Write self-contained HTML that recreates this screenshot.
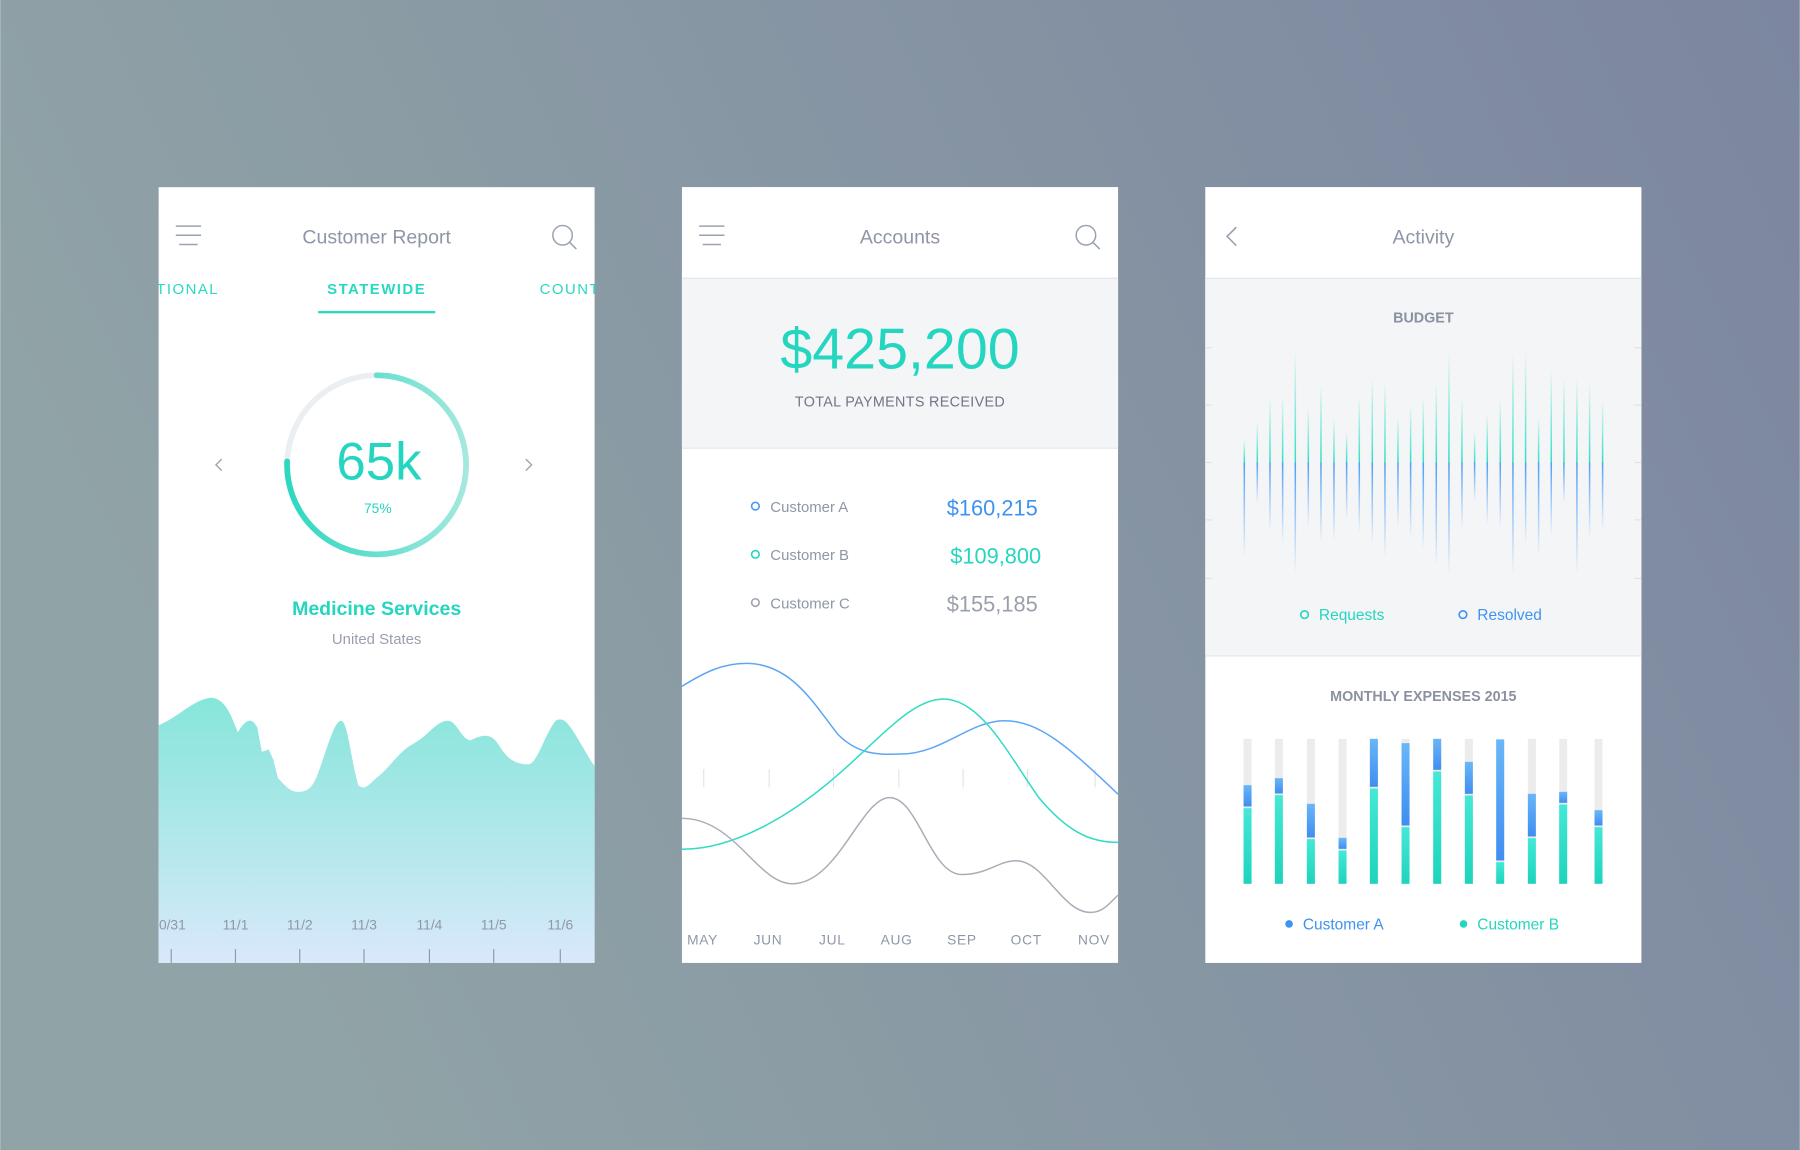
<!DOCTYPE html>
<html><head><meta charset="utf-8"><style>
html,body{margin:0;padding:0;width:1800px;height:1150px;overflow:hidden}
svg{display:block;font-family:"Liberation Sans",sans-serif}
</style></head><body>
<svg width="1800" height="1150" viewBox="0 0 1568 1002" xmlns="http://www.w3.org/2000/svg">
<defs>
<linearGradient id="bg" x1="0" y1="0.3" x2="1" y2="0"><stop offset="0" stop-color="#90a3a6"/><stop offset="1" stop-color="#7c86a0"/></linearGradient>
<linearGradient id="area" x1="0" y1="0" x2="0" y2="1"><stop offset="0" stop-color="#86e6da"/><stop offset="1" stop-color="#d9e8fb"/></linearGradient>
<linearGradient id="arc" x1="0" y1="0" x2="1" y2="0"><stop offset="0" stop-color="#2dd8c0"/><stop offset="1" stop-color="#a4e8de"/></linearGradient>
<linearGradient id="bt" x1="0" y1="0" x2="0" y2="1"><stop offset="0" stop-color="#2ee0c6" stop-opacity="0"/><stop offset="1" stop-color="#2ee0c6"/></linearGradient>
<linearGradient id="bb" x1="0" y1="0" x2="0" y2="1"><stop offset="0" stop-color="#4d9ef5"/><stop offset="1" stop-color="#4d9ef5" stop-opacity="0"/></linearGradient>
<linearGradient id="ca" x1="0" y1="0" x2="0" y2="1"><stop offset="0" stop-color="#6ab6f8"/><stop offset="1" stop-color="#3f8ef0"/></linearGradient>
<linearGradient id="cb" x1="0" y1="0" x2="0" y2="1"><stop offset="0" stop-color="#45e8d6"/><stop offset="1" stop-color="#1dd4bc"/></linearGradient>
<clipPath id="p1"><rect x="138" y="163" width="380" height="676"/></clipPath>
</defs>
<rect width="1568" height="1002" fill="url(#bg)"/>

<!-- Panel 1 -->
<g clip-path="url(#p1)">
<rect x="138" y="163" width="380" height="676" fill="#fff"/>
<g stroke="#9aa2b1" stroke-width="1.3"><line x1="153" y1="197" x2="175" y2="197"/><line x1="153" y1="205" x2="175" y2="205"/><line x1="156" y1="213" x2="172" y2="213"/></g>
<text x="328" y="212" font-size="17" fill="#8e95a6" text-anchor="middle">Customer Report</text>
<circle cx="490" cy="205" r="8.5" fill="none" stroke="#9aa2b1" stroke-width="1.3"/><line x1="496" y1="211" x2="502" y2="217" stroke="#9aa2b1" stroke-width="1.3"/>
<text x="136" y="256" font-size="13" fill="#28d9c2" letter-spacing="1.3">TIONAL</text>
<text x="328" y="256" font-size="13" fill="#28d9c2" font-weight="bold" letter-spacing="1.3" text-anchor="middle">STATEWIDE</text>
<text x="470" y="256" font-size="13" fill="#28d9c2" letter-spacing="1.3">COUNTY</text>
<rect x="277" y="271" width="102" height="2" fill="#28d9c2"/>
<path d="M193,400 L188,405 L193,410" fill="none" stroke="#9aa2b1" stroke-width="1.2"/>
<path d="M458,400 L463,405 L458,410" fill="none" stroke="#9aa2b1" stroke-width="1.2"/>
<circle cx="328" cy="405" r="78" fill="none" stroke="#eceff2" stroke-width="5"/>
<path d="M250,402 A78,78 0 1 0 328,327" fill="none" stroke="url(#arc)" stroke-width="5" stroke-linecap="round"/>
<text x="330" y="418" font-size="46" fill="#24d6bf" text-anchor="middle">65k</text>
<text x="329" y="447" font-size="12" fill="#24d6bf" text-anchor="middle">75%</text>
<text x="328" y="536" font-size="17" fill="#24d6bf" font-weight="bold" text-anchor="middle">Medicine Services</text>
<text x="328" y="561" font-size="13" fill="#9aa0ad" text-anchor="middle">United States</text>
<path d="M138,632 C155,625 168,610 183,608 C195,608 200,620 207,638 C212,630 218,622 224,634 L228,655 L234,653 L238,662 L242,678 C248,684 252,690 260,690 C272,690 275,680 281,662 C287,645 292,628 297,628 C303,628 306,665 312,684 C318,690 322,682 330,676 C340,668 348,654 360,648 C372,642 380,628 390,628 C398,628 402,645 410,645 C420,640 428,638 435,650 C442,662 450,666 460,666 C468,666 474,640 484,628 C494,622 500,640 518,668 L518,839 L138,839 Z" fill="url(#area)"/>
<g font-size="12" fill="#8f97a8" text-anchor="middle">
<text x="150" y="810">0/31</text><text x="205" y="810">11/1</text><text x="261" y="810">11/2</text><text x="317" y="810">11/3</text><text x="374" y="810">11/4</text><text x="430" y="810">11/5</text><text x="488" y="810">11/6</text></g>
<g stroke="#8f97a8" stroke-width="1"><line x1="149" y1="827" x2="149" y2="839"/><line x1="205" y1="827" x2="205" y2="839"/><line x1="261" y1="827" x2="261" y2="839"/><line x1="317" y1="827" x2="317" y2="839"/><line x1="374" y1="827" x2="374" y2="839"/><line x1="430" y1="827" x2="430" y2="839"/><line x1="488" y1="827" x2="488" y2="839"/></g>
</g>

<!-- Panel 2 -->
<rect x="594" y="163" width="380" height="676" fill="#fff"/>
<g stroke="#9aa2b1" stroke-width="1.3"><line x1="609" y1="197" x2="631" y2="197"/><line x1="609" y1="205" x2="631" y2="205"/><line x1="612" y1="213" x2="628" y2="213"/></g>
<text x="784" y="212" font-size="17" fill="#8e95a6" text-anchor="middle">Accounts</text>
<circle cx="946" cy="205" r="8.5" fill="none" stroke="#9aa2b1" stroke-width="1.3"/><line x1="952" y1="211" x2="958" y2="217" stroke="#9aa2b1" stroke-width="1.3"/>
<rect x="594" y="242" width="380" height="148" fill="#f4f5f7"/>
<line x1="594" y1="242.5" x2="974" y2="242.5" stroke="#e3e5e9"/><line x1="594" y1="390.5" x2="974" y2="390.5" stroke="#e3e5e9"/>
<text x="784" y="321" font-size="50" fill="#24d6bf" text-anchor="middle">$425,200</text>
<text x="784" y="354" font-size="12.5" fill="#6f7686" text-anchor="middle" letter-spacing="0.3">TOTAL PAYMENTS RECEIVED</text>
<circle cx="658" cy="441" r="3.3" fill="none" stroke="#4a9af2" stroke-width="1.4"/>
<circle cx="658" cy="483" r="3.3" fill="none" stroke="#24d6bf" stroke-width="1.4"/>
<circle cx="658" cy="525" r="3.3" fill="none" stroke="#a0a5b0" stroke-width="1.4"/>
<g font-size="13" fill="#8f96a6"><text x="671" y="446">Customer A</text><text x="671" y="488">Customer B</text><text x="671" y="530">Customer C</text></g>
<text x="904" y="449" font-size="19" fill="#3f93f0" text-anchor="end">$160,215</text>
<text x="907" y="491" font-size="19" fill="#24d6bf" text-anchor="end">$109,800</text>
<text x="904" y="533" font-size="19" fill="#9aa0ab" text-anchor="end">$155,185</text>
<g stroke="#e2e4e8" stroke-width="1"><line x1="613" y1="670" x2="613" y2="686"/><line x1="670" y1="670" x2="670" y2="686"/><line x1="726" y1="670" x2="726" y2="686"/><line x1="783" y1="670" x2="783" y2="686"/><line x1="839" y1="670" x2="839" y2="686"/><line x1="895" y1="670" x2="895" y2="686"/><line x1="954" y1="670" x2="954" y2="686"/></g>
<path d="M594,598 C615,585 630,578 650,578 C690,578 710,615 730,640 C750,660 770,657 785,657 C820,657 845,628 875,628 C905,628 930,650 974,692" fill="none" stroke="#5ea6f4" stroke-width="1.3"/>
<path d="M594,740 C640,740 690,710 730,675 C770,640 795,609 822,609 C855,609 880,660 905,695 C930,725 950,734 974,734" fill="none" stroke="#2fdcc4" stroke-width="1.3"/>
<path d="M594,713 C640,713 660,770 690,770 C730,770 750,695 775,695 C800,695 810,762 838,762 C860,762 870,750 885,750 C910,750 925,795 950,795 C962,795 968,785 974,780" fill="none" stroke="#a9adb6" stroke-width="1.3"/>
<g font-size="12" fill="#8f97a8" text-anchor="middle" letter-spacing="0.6">
<text x="612" y="823">MAY</text><text x="669" y="823">JUN</text><text x="725" y="823">JUL</text><text x="781" y="823">AUG</text><text x="838" y="823">SEP</text><text x="894" y="823">OCT</text><text x="953" y="823">NOV</text></g>

<!-- Panel 3 -->
<rect x="1050" y="163" width="380" height="676" fill="#fff"/>
<path d="M1077,198 L1069,206 L1077,214" fill="none" stroke="#9aa2b1" stroke-width="1.4"/>
<text x="1240" y="212" font-size="17" fill="#8e95a6" text-anchor="middle">Activity</text>
<rect x="1050" y="242" width="380" height="329" fill="#f4f5f7"/>
<line x1="1050" y1="242.5" x2="1430" y2="242.5" stroke="#e3e5e9"/><line x1="1050" y1="571.5" x2="1430" y2="571.5" stroke="#e3e5e9"/>
<text x="1240" y="281" font-size="12.5" fill="#8a91a1" font-weight="bold" text-anchor="middle">BUDGET</text>
<g stroke="#dfe2e6"><line x1="1050" y1="303" x2="1056" y2="303"/><line x1="1050" y1="353" x2="1056" y2="353"/><line x1="1050" y1="403" x2="1056" y2="403"/><line x1="1050" y1="453" x2="1056" y2="453"/><line x1="1050" y1="504" x2="1056" y2="504"/>
<line x1="1424" y1="303" x2="1430" y2="303"/><line x1="1424" y1="353" x2="1430" y2="353"/><line x1="1424" y1="403" x2="1430" y2="403"/><line x1="1424" y1="453" x2="1430" y2="453"/><line x1="1424" y1="504" x2="1430" y2="504"/></g>
<g transform="translate(1045.3,261.3) scale(0.2904)">
<g fill="url(#bt)">
<rect x="131" y="420" width="4.5" height="68"/><rect x="170" y="365" width="4.5" height="123"/><rect x="208" y="290" width="4.5" height="198"/><rect x="246" y="290" width="4.5" height="198"/><rect x="284" y="150" width="4.5" height="338"/><rect x="323" y="320" width="4.5" height="168"/><rect x="361" y="250" width="4.5" height="238"/><rect x="400" y="355" width="4.5" height="133"/><rect x="438" y="395" width="4.5" height="93"/><rect x="476" y="290" width="4.5" height="198"/><rect x="515" y="230" width="4.5" height="258"/><rect x="553" y="240" width="4.5" height="248"/><rect x="592" y="350" width="4.5" height="138"/><rect x="630" y="315" width="4.5" height="173"/><rect x="668" y="290" width="4.5" height="198"/><rect x="707" y="250" width="4.5" height="238"/><rect x="745" y="155" width="4.5" height="333"/><rect x="784" y="290" width="4.5" height="198"/><rect x="822" y="395" width="4.5" height="93"/><rect x="860" y="340" width="4.5" height="148"/><rect x="899" y="295" width="4.5" height="193"/><rect x="937" y="160" width="4.5" height="328"/><rect x="975" y="155" width="4.5" height="333"/><rect x="1014" y="350" width="4.5" height="138"/><rect x="1052" y="210" width="4.5" height="278"/><rect x="1090" y="230" width="4.5" height="258"/><rect x="1129" y="235" width="4.5" height="253"/><rect x="1167" y="250" width="4.5" height="238"/><rect x="1206" y="300" width="4.5" height="188"/></g>
<g fill="url(#bb)">
<rect x="131" y="488" width="4.5" height="287"/><rect x="170" y="488" width="4.5" height="122"/><rect x="208" y="488" width="4.5" height="207"/><rect x="246" y="488" width="4.5" height="247"/><rect x="284" y="488" width="4.5" height="337"/><rect x="323" y="488" width="4.5" height="192"/><rect x="361" y="488" width="4.5" height="242"/><rect x="400" y="488" width="4.5" height="237"/><rect x="438" y="488" width="4.5" height="172"/><rect x="476" y="488" width="4.5" height="212"/><rect x="515" y="488" width="4.5" height="247"/><rect x="553" y="488" width="4.5" height="287"/><rect x="592" y="488" width="4.5" height="192"/><rect x="630" y="488" width="4.5" height="227"/><rect x="668" y="488" width="4.5" height="262"/><rect x="707" y="488" width="4.5" height="312"/><rect x="745" y="488" width="4.5" height="337"/><rect x="784" y="488" width="4.5" height="202"/><rect x="822" y="488" width="4.5" height="117"/><rect x="860" y="488" width="4.5" height="187"/><rect x="899" y="488" width="4.5" height="197"/><rect x="937" y="488" width="4.5" height="337"/><rect x="975" y="488" width="4.5" height="247"/><rect x="1014" y="488" width="4.5" height="282"/><rect x="1052" y="488" width="4.5" height="222"/><rect x="1090" y="488" width="4.5" height="122"/><rect x="1129" y="488" width="4.5" height="337"/><rect x="1167" y="488" width="4.5" height="232"/><rect x="1206" y="488" width="4.5" height="202"/></g>
</g>
<circle cx="1136.5" cy="535.5" r="3.3" fill="none" stroke="#24d6bf" stroke-width="1.4"/>
<text x="1149" y="540" font-size="13.5" fill="#24d6bf">Requests</text>
<circle cx="1274.5" cy="535.5" r="3.3" fill="none" stroke="#3f93f0" stroke-width="1.4"/>
<text x="1287" y="540" font-size="13.5" fill="#3f93f0">Resolved</text>
<text x="1240" y="611" font-size="12.5" fill="#8a91a1" font-weight="bold" text-anchor="middle">MONTHLY EXPENSES 2015</text>
<g transform="translate(1045.3,627.2) scale(0.2904)">
<g fill="#ececec">
<rect x="131" y="57" width="24" height="435"/><rect x="225" y="57" width="24" height="435"/><rect x="321" y="57" width="24" height="435"/><rect x="416" y="57" width="24" height="435"/><rect x="510" y="57" width="24" height="435"/><rect x="605" y="57" width="24" height="435"/><rect x="700" y="57" width="24" height="435"/><rect x="795" y="57" width="24" height="435"/><rect x="889" y="57" width="24" height="435"/><rect x="984" y="57" width="24" height="435"/><rect x="1078" y="57" width="24" height="435"/><rect x="1184" y="57" width="24" height="435"/></g>
<g fill="url(#ca)">
<rect x="131" y="196" width="24" height="64"/><rect x="225" y="175" width="24" height="46"/><rect x="321" y="252" width="24" height="101"/><rect x="416" y="354" width="24" height="33"/><rect x="510" y="57" width="24" height="144"/><rect x="605" y="70" width="24" height="247"/><rect x="700" y="57" width="24" height="93"/><rect x="795" y="126" width="24" height="96"/><rect x="889" y="59" width="24" height="363"/><rect x="984" y="222" width="24" height="128"/><rect x="1078" y="216" width="24" height="33"/><rect x="1184" y="271" width="24" height="46"/></g>
<g fill="url(#cb)">
<rect x="131" y="265" width="24" height="227"/><rect x="225" y="226" width="24" height="266"/><rect x="321" y="358" width="24" height="134"/><rect x="416" y="392" width="24" height="100"/><rect x="510" y="206" width="24" height="286"/><rect x="605" y="322" width="24" height="170"/><rect x="700" y="155" width="24" height="337"/><rect x="795" y="227" width="24" height="265"/><rect x="889" y="427" width="24" height="65"/><rect x="984" y="355" width="24" height="137"/><rect x="1078" y="254" width="24" height="238"/><rect x="1184" y="322" width="24" height="170"/></g>
</g>
<circle cx="1123" cy="805" r="3.3" fill="#3f93f0"/>
<text x="1135" y="810" font-size="13.5" fill="#3f93f0">Customer A</text>
<circle cx="1275" cy="805" r="3.3" fill="#24d6bf"/>
<text x="1287" y="810" font-size="13.5" fill="#24d6bf">Customer B</text>
</svg>
</body></html>
